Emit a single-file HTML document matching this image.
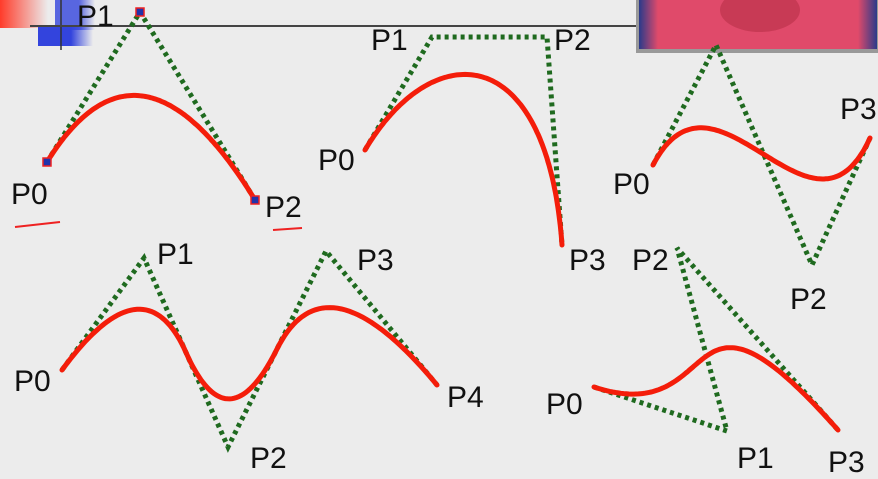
<!DOCTYPE html>
<html><head><meta charset="utf-8">
<style>
html,body{margin:0;padding:0;background:#ececec;}
svg{display:block;}
text{font-family:"Liberation Sans",sans-serif;font-size:30px;fill:#111;}
</style></head>
<body>
<svg id="chart" width="878" height="479" viewBox="0 0 878 479">
<defs>
<linearGradient id="lg1" x1="0" x2="1"><stop offset="0" stop-color="#ff3b2a"/><stop offset="1" stop-color="#ff3b2a" stop-opacity="0"/></linearGradient>
<linearGradient id="lg2" x1="0" x2="1"><stop offset="0" stop-color="#3344dd"/><stop offset="0.6" stop-color="#3344dd"/><stop offset="1" stop-color="#3344dd" stop-opacity="0"/></linearGradient>
<linearGradient id="vid" x1="0" x2="1"><stop offset="0" stop-color="#2a3a8a"/><stop offset="0.08" stop-color="#e04a6a"/><stop offset="0.92" stop-color="#e04a6a"/><stop offset="1" stop-color="#2a3a8a"/></linearGradient>
</defs>
<g>
<rect x="0" y="0" width="48" height="28" fill="url(#lg1)"/>
<rect x="38" y="26" width="55" height="20" fill="url(#lg2)"/>
<rect x="55" y="0" width="40" height="30" fill="url(#lg2)" opacity="0.8"/>
<line x1="61" y1="0" x2="61" y2="50" stroke="#333" stroke-width="1.5"/>
</g>
<line x1="30" y1="26" x2="640" y2="26" stroke="#444" stroke-width="2"/>
<g>
<rect x="636" y="0" width="242" height="53" fill="#999"/>
<rect x="639" y="0" width="238" height="49" fill="url(#vid)"/>
<ellipse cx="760" cy="10" rx="40" ry="22" fill="#c83a55"/>
</g>
<g id="layer"></g>
</svg>
<script>
// control points for each curve
const curve1X = [47, 140, 255];
const curve1Y = [162, 12, 200];
const curve2X = [365, 432, 547, 562];
const curve2Y = [150, 37, 37, 245];
const curve3X = [653, 716, 812, 870];
const curve3Y = [165, 45, 265, 138];
const curve4X = [62, 144, 228, 326, 437];
const curve4Y = [370, 258, 447, 251, 385];
const curve5X = [594, 727, 677, 838];
const curve5Y = [387, 431, 248, 430];
// labels
const labelText = ["P1","P0","P2","P1","P2","P0","P3","P0","P3","P2","P1","P3","P0","P2","P4","P0","P2","P1","P3"];
const labelX = [77,11,265,371,554,318,569,613,840,790,157,357,14,250,447,546,632,737,828];
const labelY = [26,204,217,50,50,170,270,194,119,309,264,270,391,468,407,414,270,468,472];

const NS = "http://www.w3.org/2000/svg";
const layer = document.getElementById("layer");
function bez(xs, ys, t){
  let px = xs.slice(), py = ys.slice();
  for (let k = px.length - 1; k > 0; k--) for (let i = 0; i < k; i++) {
    px[i] = px[i] * (1 - t) + px[i + 1] * t; py[i] = py[i] * (1 - t) + py[i + 1] * t;
  }
  return [px[0], py[0]];
}
// clamped uniform quadratic B-spline via de Boor
function bspline(xs, ys, u){
  const p = 2, n = xs.length;
  const segs = n - p;
  const knots = [];
  for (let i = 0; i <= p; i++) knots.push(0);
  for (let i = 1; i < segs; i++) knots.push(i);
  for (let i = 0; i <= p; i++) knots.push(segs);
  u = u * segs;
  let k = p;
  while (k < n - 1 && u >= knots[k + 1]) k++;
  let dx = [], dy = [];
  for (let j = 0; j <= p; j++) { dx.push(xs[j + k - p]); dy.push(ys[j + k - p]); }
  for (let r = 1; r <= p; r++) for (let j = p; j >= r; j--) {
    const den = knots[j + 1 + k - r] - knots[j + k - p];
    const a = den === 0 ? 0 : (u - knots[j + k - p]) / den;
    dx[j] = (1 - a) * dx[j - 1] + a * dx[j]; dy[j] = (1 - a) * dy[j - 1] + a * dy[j];
  }
  return [dx[p], dy[p]];
}
function drawCurve(xs, ys, idx, fn){
  const poly = document.createElementNS(NS, "polyline");
  poly.setAttribute("points", xs.map((x, i) => x + "," + ys[i]).join(" "));
  poly.setAttribute("fill", "none"); poly.setAttribute("stroke", "#1f6a1f");
  poly.setAttribute("stroke-width", "5"); poly.setAttribute("stroke-dasharray", "4 4");
  
  
  layer.appendChild(poly);
  let pts = [];
  for (let s = 0; s <= 120; s++) { const p = fn(xs, ys, Math.min(s / 120, 0.99999)); pts.push(p[0].toFixed(1) + "," + p[1].toFixed(1)); }
  pts.push(xs[xs.length - 1] + "," + ys[ys.length - 1]);
  const c = document.createElementNS(NS, "polyline");
  c.setAttribute("points", pts.join(" "));
  c.setAttribute("fill", "none"); c.setAttribute("stroke", "#f41d0a");
  c.setAttribute("stroke-width", "5"); c.setAttribute("stroke-linecap", "round");
  
  
  layer.appendChild(c);
}
drawCurve(curve1X, curve1Y, 1, bez);
drawCurve(curve2X, curve2Y, 2, bez);
drawCurve(curve3X, curve3Y, 3, bez);
drawCurve(curve4X, curve4Y, 4, bspline);
drawCurve(curve5X, curve5Y, 5, bez);
[0, 1, 2].forEach(i => {
  const r = document.createElementNS(NS, "rect");
  r.setAttribute("x", curve1X[i] - 4); r.setAttribute("y", curve1Y[i] - 4);
  r.setAttribute("width", 8); r.setAttribute("height", 8);
  r.setAttribute("fill", "#2233aa"); r.setAttribute("stroke", "#e22"); r.setAttribute("stroke-width", "1.5");
  
  
  layer.appendChild(r);
});
labelText.forEach((t, i) => {
  const tx = document.createElementNS(NS, "text");
  tx.setAttribute("x", labelX[i]); tx.setAttribute("y", labelY[i]);
  tx.textContent = t;
  
  
  layer.appendChild(tx);
});
[[15, 227, 60, 222], [273, 230, 302, 228]].forEach(a => {
  const l = document.createElementNS(NS, "line");
  l.setAttribute("x1", a[0]); l.setAttribute("y1", a[1]); l.setAttribute("x2", a[2]); l.setAttribute("y2", a[3]);
  l.setAttribute("stroke", "#e22"); l.setAttribute("stroke-width", "2");
  
  
  layer.appendChild(l);
});
</script>
</body></html>
